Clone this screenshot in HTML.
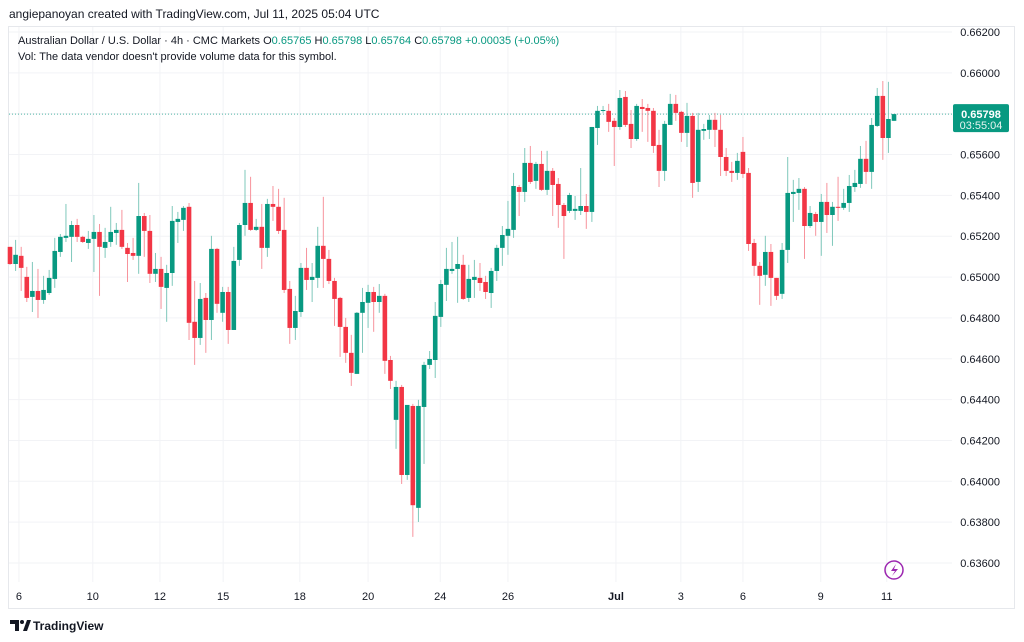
<!DOCTYPE html>
<html><head><meta charset="utf-8">
<style>
html,body{margin:0;padding:0;background:#fff;}
svg{display:block;font-family:"Liberation Sans",sans-serif;}
</style></head>
<body>
<svg id="chart" width="1024" height="642" viewBox="0 0 1024 642" xmlns="http://www.w3.org/2000/svg">
<rect x="0" y="0" width="1024" height="642" fill="#ffffff"/>
<text x="9" y="18" font-size="12" fill="#131722">angiepanoyan created with TradingView.com, Jul 11, 2025 05:04 UTC</text>
<rect x="8.5" y="26.5" width="1006" height="582" fill="none" stroke="#e6e8ec"/>
<g id="grid"></g>
<g id="candles"></g>
<g id="yaxis"></g>
<g id="xaxis"></g>
<text x="18" y="44" font-size="11" fill="#131722">Australian Dollar / U.S. Dollar · 4h · CMC Markets  O<tspan fill="#089981">0.65765</tspan>  H<tspan fill="#089981">0.65798</tspan>  L<tspan fill="#089981">0.65764</tspan>  C<tspan fill="#089981">0.65798</tspan>  <tspan fill="#089981">+0.00035 (+0.05%)</tspan></text>
<text x="18" y="60" font-size="11" fill="#131722">Vol: The data vendor doesn't provide volume data for this symbol.</text>
<g>
<circle cx="894" cy="570" r="9" fill="none" stroke="#9c27b0" stroke-width="1.5"/>
<path d="M896 564 L891 571 L895 571 L892 576 L898 569 L894 569 Z" fill="#9c27b0"/>
</g>
<g>
<path d="M10 620 h9 v11 h-4 v-7 h-5 z" fill="#131722"/>
<circle cx="22" cy="622" r="2" fill="#131722"/>
<path d="M23 631 l4 -11 h4 l-4 11 z" fill="#131722"/>
<text x="33" y="630" font-size="12" font-weight="bold" fill="#131722">TradingView</text>
</g>
</svg>
<script>
const opens=[65148,65064,65104,65001,64903,64932,64888,64922,64991,65123,65192,65197,65255,65197,65167,65187,65221,65143,65172,65216,65231,65143,65118,65104,65299,65226,65016,65040,64947,65020,65270,65280,65344,64781,64702,64898,64790,65138,64825,64927,64741,65084,65255,65363,65231,65246,65143,65358,65344,65231,64942,64751,64829,65045,64986,64996,65153,65089,64981,64898,64756,64629,64526,64825,64874,64927,64878,64908,64594,64301,64462,64031,64369,63870,64364,64570,64594,64805,64962,65030,65040,65060,64898,64986,64996,64976,64922,65030,65143,65202,65231,65441,65417,65559,65471,65554,65427,65520,65456,65353,65324,65324,65324,65348,65319,65730,65814,65814,65765,65735,65882,65750,65676,65833,65828,65814,65647,65520,65745,65848,65809,65706,65789,65466,65716,65721,65770,65721,65588,65520,65510,65613,65510,65167,65055,65011,65123,64996,64918,65133,65407,65412,65432,65250,65309,65270,65368,65304,65344,65339,65363,65441,65456,65579,65515,65740,65887,65681,65765];
const highs=[65148,65182,65148,65050,65074,65040,65006,65035,65192,65211,65358,65275,65285,65202,65226,65304,65260,65241,65344,65265,65329,65167,65192,65461,65314,65304,65118,65099,65060,65348,65319,65348,65363,64981,64971,64922,65202,65143,64952,64952,65148,65265,65525,65491,65285,65358,65383,65446,65432,65388,64981,64908,65069,65143,65069,65246,65393,65133,64996,64903,64800,64717,64829,64947,64962,64952,64966,64918,64614,64492,64472,64276,64379,64399,64585,64638,64878,64986,65143,65172,65197,65109,65060,65084,65069,65006,65045,65158,65250,65373,65510,65451,65632,65642,65564,65618,65618,65534,65485,65363,65412,65397,65534,65407,65735,65838,65838,65848,65779,65916,65911,65818,65848,65872,65848,65828,65721,65765,65897,65892,65814,65853,65804,65804,65750,65794,65804,65794,65632,65564,65608,65686,65534,65187,65074,65202,65162,64996,65167,65588,65476,65485,65441,65348,65319,65407,65461,65368,65491,65432,65500,65525,65642,65667,65779,65926,65960,65956,65798];
const lows=[65060,65030,64932,64878,64829,64800,64869,64913,64947,65099,65172,65074,65172,65167,65138,65025,64908,65094,65148,65158,65138,64976,65084,65016,65099,64971,64976,64844,64781,64957,65167,65226,64692,64570,64668,64629,64692,64825,64781,64673,64741,65055,65202,65226,65226,65040,65099,65275,65211,64922,64673,64692,64805,64937,64878,64947,64947,64966,64761,64609,64580,64467,64526,64629,64751,64732,64825,64526,64452,64159,63987,64007,63728,63801,64085,64550,64506,64756,64883,65016,64874,64888,64878,64898,64932,64893,64849,64981,65055,65109,65192,65299,65368,65456,65432,65422,65402,65299,65241,65089,65314,65280,65304,65236,65270,65647,65804,65711,65544,65721,65735,65632,65667,65711,65662,65608,65441,65471,65745,65765,65662,65637,65388,65417,65672,65676,65637,65495,65495,65466,65476,65485,65128,65006,64864,64957,64859,64888,64893,65069,65270,65329,65089,65241,65202,65104,65216,65153,65275,65329,65319,65417,65437,65456,65432,65735,65574,65608,65764];
const closes=[65064,65109,65045,64898,64932,64888,64937,64996,65128,65197,65202,65255,65197,65172,65187,65221,65148,65172,65221,65231,65148,65113,65104,65299,65226,65016,65040,64952,65020,65275,65285,65339,64776,64702,64893,64790,65138,64869,64927,64741,65079,65255,65363,65231,65246,65143,65358,65344,65226,64937,64751,64834,65045,64986,65001,65153,65089,64981,64893,64756,64629,64531,64825,64878,64927,64878,64908,64590,64492,64462,64031,64374,63883,64369,64570,64599,64810,64966,65040,65040,65064,64893,64991,65001,64971,64927,65030,65143,65206,65236,65446,65417,65559,65466,65554,65427,65520,65451,65353,65299,65402,65334,65348,65319,65735,65814,65818,65760,65735,65877,65745,65676,65838,65823,65814,65642,65520,65750,65848,65804,65706,65789,65461,65721,65725,65770,65721,65588,65520,65510,65569,65505,65162,65055,65006,65123,64996,64908,65133,65412,65417,65432,65250,65314,65270,65368,65304,65344,65339,65363,65446,65461,65579,65515,65745,65887,65681,65774,65798];
const priceTicks=[0.662,0.660,0.658,0.656,0.654,0.652,0.650,0.648,0.646,0.644,0.642,0.640,0.638,0.636];
const dateLabels=["6","10","12","15","18","20","24","26","Jul","3","6","9","11"];
const dateIdx=[1.6,14.8,26.8,38.1,51.8,64,76.9,89,108.3,119.9,131,144.9,156.7];
const lastPrice=0.65798;

const NS="http://www.w3.org/2000/svg";
const SC=100000;
function yOf(p){return 32+(0.662-p)*(563-32)/0.026;}
function xOf(i){return 10+i*5.595;}
function mk(tag,attrs,parent){const e=document.createElementNS(NS,tag);for(const k in attrs)e.setAttribute(k,attrs[k]);parent.appendChild(e);return e;}
const grid=document.getElementById('grid'),cg=document.getElementById('candles'),ya=document.getElementById('yaxis'),xa=document.getElementById('xaxis');
const PR=952;
priceTicks.forEach(p=>{
  const y=yOf(p);
  const l=mk('line',{x1:9,x2:PR,y1:y,y2:y,stroke:'#f2f3f6','stroke-width':1},grid);
  
  
  const t=mk('text',{x:1000,y:y+4,'font-size':11,fill:'#131722','text-anchor':'end'},ya);
  t.textContent=p.toFixed(5);
  
  
});
dateLabels.forEach((d,k)=>{
  const x=xOf(dateIdx[k]);
  const l=mk('line',{x1:x,x2:x,y1:27,y2:582,stroke:'#f2f3f6','stroke-width':1},grid);
  
  
  const t=mk('text',{x:x,y:600,'font-size':11,fill:'#131722','text-anchor':'middle','font-weight':d==='Jul'?'bold':'normal'},xa);
  t.textContent=d;
  
  
});
for(let i=0;i<opens.length;i++){
  const o=opens[i]/SC,h=highs[i]/SC,l=lows[i]/SC,c=closes[i]/SC;
  const up=c>=o, col=up?'#089981':'#f23645', wcol=up?'#7fc8bb':'#f7939c';
  const x=xOf(i);
  const g=mk('g',{},cg);
  
  
  mk('line',{x1:x,x2:x,y1:yOf(h),y2:yOf(l),stroke:wcol,'stroke-width':1},g);
  const yt=yOf(Math.max(o,c)),yb=yOf(Math.min(o,c));
  mk('rect',{x:x-2.3,y:yt,width:4.6,height:Math.max(1,yb-yt),fill:col},g);
}
const ly=yOf(lastPrice);
const dl=mk('line',{x1:9,x2:PR,y1:ly,y2:ly,stroke:'#089981','stroke-width':1,'stroke-dasharray':'1 2','stroke-opacity':0.7},grid);


const lb=mk('g',{},ya);


mk('rect',{x:953,y:ly-10,width:56,height:28,fill:'#089981',rx:2},lb);
const t1=mk('text',{x:981,y:ly+4,'font-size':11,fill:'#fff','text-anchor':'middle','font-weight':'bold'},lb);
t1.textContent=lastPrice.toFixed(5);
const t2=mk('text',{x:981,y:ly+15,'font-size':11,fill:'#e6f4f1','text-anchor':'middle'},lb);
t2.textContent='03:55:04';
</script>
</body></html>
